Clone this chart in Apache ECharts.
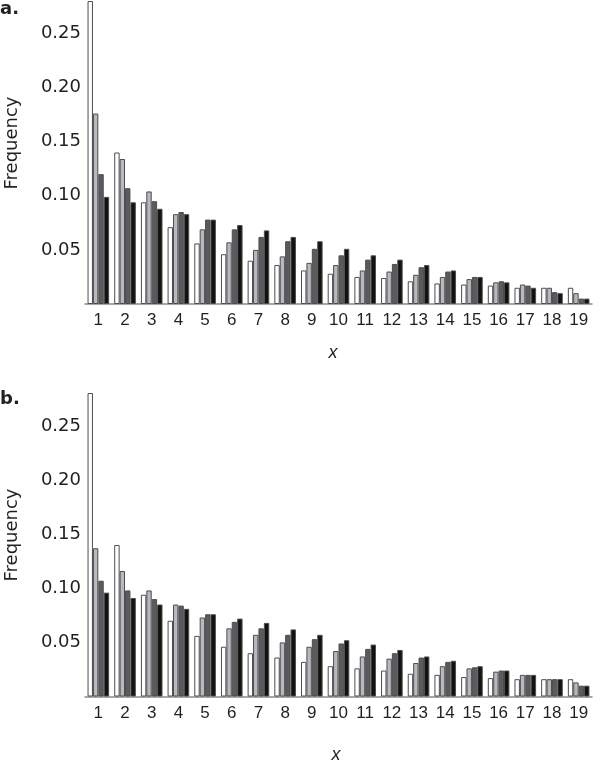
<!DOCTYPE html>
<html>
<head>
<meta charset="utf-8">
<script src="https://cdn.jsdelivr.net/npm/echarts@6/dist/echarts.min.js"></script>
<style>
html,body{margin:0;padding:0;background:#fff;}
#chart{width:600px;height:766px;}
</style>
</head>
<body>
<div id="chart"></div>
<script>
var categories = ['1','2','3','4','5','6','7','8','9','10','11','12','13','14','15','16','17','18','19'];
var yTicks = [0.05, 0.10, 0.15, 0.20, 0.25];

// Panel a
var a1 = [0.280,0.140,0.094,0.071,0.056,0.046,0.040,0.036,0.031,0.028,0.025,0.024,0.021,0.019,0.018,0.017,0.015,0.015,0.015];
var a2 = [0.176,0.134,0.104,0.083,0.069,0.057,0.050,0.044,0.038,0.036,0.031,0.030,0.027,0.025,0.023,0.020,0.018,0.015,0.010];
var a3 = [0.120,0.107,0.095,0.085,0.078,0.069,0.062,0.058,0.051,0.045,0.041,0.037,0.034,0.030,0.025,0.021,0.017,0.011,0.005];
var a4 = [0.099,0.094,0.088,0.083,0.078,0.073,0.068,0.062,0.058,0.051,0.045,0.041,0.036,0.031,0.025,0.020,0.015,0.010,0.005];

// Panel b
var b1 = [0.281,0.140,0.094,0.070,0.056,0.046,0.040,0.036,0.032,0.028,0.026,0.024,0.021,0.020,0.018,0.017,0.016,0.016,0.016];
var b2 = [0.137,0.116,0.098,0.085,0.073,0.063,0.057,0.050,0.046,0.042,0.037,0.035,0.031,0.028,0.026,0.023,0.020,0.016,0.013];
var b3 = [0.107,0.098,0.090,0.084,0.076,0.069,0.063,0.057,0.053,0.049,0.044,0.040,0.036,0.032,0.027,0.024,0.020,0.016,0.010];
var b4 = [0.096,0.091,0.085,0.081,0.076,0.072,0.068,0.062,0.057,0.052,0.048,0.043,0.037,0.033,0.028,0.024,0.020,0.016,0.010];

var fills = ['#ffffff', '#b8b8c2', '#5a5b5d', '#121212'];
var textColor = '#231f20';

function yFmt(v) {
  for (var i = 0; i < yTicks.length; i++) {
    if (Math.abs(v - yTicks[i]) < 1e-9) return yTicks[i].toFixed(2);
  }
  return '';
}

function xAxisDef(idx) {
  return {
    type: 'category', gridIndex: idx, data: categories,
    axisLine: {show: true, lineStyle: {color: '#8a8a8a', width: 1.5}},
    axisTick: {show: false},
    axisLabel: {color: textColor, fontFamily: 'Liberation Sans', fontSize: 17, margin: 8, interval: 0},
    splitLine: {show: false}
  };
}
function yAxisDef(idx) {
  return {
    type: 'value', gridIndex: idx, min: 0, max: 0.28, interval: 0.05,
    axisLine: {show: false}, axisTick: {show: false}, splitLine: {show: false},
    axisLabel: {color: textColor, fontFamily: 'DejaVu Sans', fontSize: 18, margin: 4, formatter: yFmt, showMaxLabel: false}
  };
}
function barSeries(name, data, idx, color) {
  return {
    name: name, type: 'bar', xAxisIndex: idx, yAxisIndex: idx, data: data,
    barGap: '0%', barCategoryGap: '19%',
    itemStyle: {color: color, borderColor: '#4d4d4d', borderWidth: 1},
    emphasis: {disabled: true}, animation: false
  };
}

var chart = echarts.init(document.getElementById('chart'), null, {renderer: 'canvas'});
chart.setOption({
  backgroundColor: '#ffffff',
  animation: false,
  grid: [
    {left: 85, width: 507, top: 1, height: 303},
    {left: 85, width: 507, top: 393.5, height: 303}
  ],
  xAxis: [xAxisDef(0), xAxisDef(1)],
  yAxis: [yAxisDef(0), yAxisDef(1)],
  series: [
    barSeries('a1', a1, 0, fills[0]), barSeries('a2', a2, 0, fills[1]),
    barSeries('a3', a3, 0, fills[2]), barSeries('a4', a4, 0, fills[3]),
    barSeries('b1', b1, 1, fills[0]), barSeries('b2', b2, 1, fills[1]),
    barSeries('b3', b3, 1, fills[2]), barSeries('b4', b4, 1, fills[3])
  ],
  graphic: [
    {type: 'text', left: 0, top: 0, style: {text: 'a.', font: 'bold 18px "DejaVu Sans"', fill: textColor}},
    {type: 'text', left: 0, top: 390, style: {text: 'b.', font: 'bold 18px "DejaVu Sans"', fill: textColor}},
    {type: 'text', x: 12, y: 143, rotation: Math.PI / 2, style: {text: 'Frequency', font: '18px "DejaVu Sans"', fill: textColor, align: 'center', verticalAlign: 'middle'}},
    {type: 'text', x: 12, y: 535, rotation: Math.PI / 2, style: {text: 'Frequency', font: '18px "DejaVu Sans"', fill: textColor, align: 'center', verticalAlign: 'middle'}},
    {type: 'text', x: 333, y: 353, style: {text: 'x', font: 'italic 18px "Liberation Sans"', fill: textColor, align: 'center', verticalAlign: 'middle'}},
    {type: 'text', x: 336, y: 755, style: {text: 'x', font: 'italic 18px "Liberation Sans"', fill: textColor, align: 'center', verticalAlign: 'middle'}}
  ]
});
</script>
</body>
</html>
